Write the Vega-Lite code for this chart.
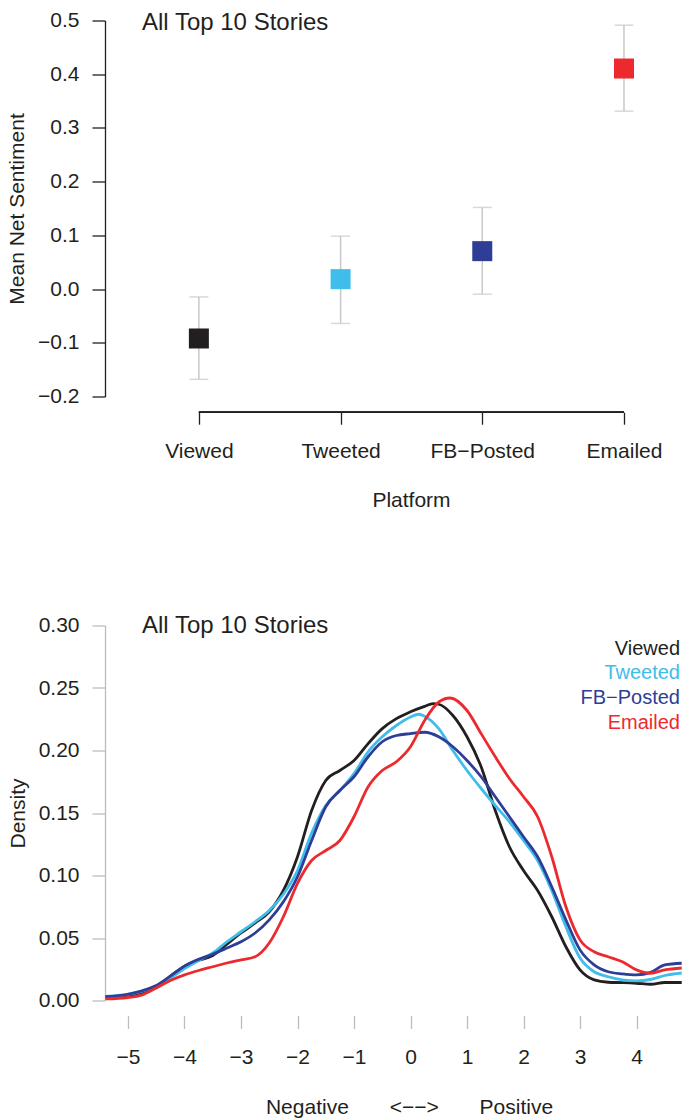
{
  "$schema": "https://vega.github.io/schema/vega-lite/v6.json",
  "padding": {"left": 6, "top": 9.5, "right": 0, "bottom": 0},
  "background": "white",
  "spacing": 102,
  "resolve": {"scale": {"stroke": "independent"}, "legend": {"stroke": "independent"}},
  "config": {
    "font": "Liberation Sans",
    "view": {"stroke": null},
    "axis": {"grid": false, "labelFont": "Liberation Sans", "titleFont": "Liberation Sans", "labelColor": "#231f20", "titleColor": "#231f20", "titleFontWeight": "normal", "labelFontSize": 21, "titleFontSize": 21, "labelOverlap": false, "labelFlush": false},
    "title": {"font": "Liberation Sans", "fontSize": 24, "fontWeight": "normal", "color": "#231f20", "anchor": "start", "frame": "group", "baseline": "alphabetic", "dx": 37}
  },
  "datasets": {
    "summary": [
      {"platform": "Viewed", "mean": -0.092, "lo": -0.168, "hi": -0.0146},
      {"platform": "Tweeted", "mean": 0.0185, "lo": -0.064, "hi": 0.0985},
      {"platform": "FB−Posted", "mean": 0.0706, "lo": -0.0095, "hi": 0.152},
      {"platform": "Emailed", "mean": 0.4106, "lo": 0.3312, "hi": 0.4913}
    ],
    "density": [
      {"platform": "Viewed", "x": -5.4, "density": 0.0027},
      {"platform": "Viewed", "x": -5.0, "density": 0.004},
      {"platform": "Viewed", "x": -4.75, "density": 0.0065},
      {"platform": "Viewed", "x": -4.5, "density": 0.011},
      {"platform": "Viewed", "x": -4.25, "density": 0.0195},
      {"platform": "Viewed", "x": -4.0, "density": 0.0275},
      {"platform": "Viewed", "x": -3.75, "density": 0.032},
      {"platform": "Viewed", "x": -3.5, "density": 0.036},
      {"platform": "Viewed", "x": -3.25, "density": 0.045},
      {"platform": "Viewed", "x": -3.0, "density": 0.054},
      {"platform": "Viewed", "x": -2.75, "density": 0.062},
      {"platform": "Viewed", "x": -2.5, "density": 0.071},
      {"platform": "Viewed", "x": -2.25, "density": 0.088},
      {"platform": "Viewed", "x": -2.0, "density": 0.115},
      {"platform": "Viewed", "x": -1.75, "density": 0.152},
      {"platform": "Viewed", "x": -1.5, "density": 0.176},
      {"platform": "Viewed", "x": -1.25, "density": 0.184},
      {"platform": "Viewed", "x": -1.0, "density": 0.192},
      {"platform": "Viewed", "x": -0.75, "density": 0.2055},
      {"platform": "Viewed", "x": -0.5, "density": 0.2175},
      {"platform": "Viewed", "x": -0.25, "density": 0.2255},
      {"platform": "Viewed", "x": 0.0, "density": 0.231},
      {"platform": "Viewed", "x": 0.25, "density": 0.2353},
      {"platform": "Viewed", "x": 0.4, "density": 0.2375},
      {"platform": "Viewed", "x": 0.5, "density": 0.237},
      {"platform": "Viewed", "x": 0.75, "density": 0.228},
      {"platform": "Viewed", "x": 1.0, "density": 0.211},
      {"platform": "Viewed", "x": 1.25, "density": 0.187},
      {"platform": "Viewed", "x": 1.5, "density": 0.152},
      {"platform": "Viewed", "x": 1.75, "density": 0.123},
      {"platform": "Viewed", "x": 2.0, "density": 0.104},
      {"platform": "Viewed", "x": 2.25, "density": 0.088},
      {"platform": "Viewed", "x": 2.5, "density": 0.067},
      {"platform": "Viewed", "x": 2.75, "density": 0.043},
      {"platform": "Viewed", "x": 3.0, "density": 0.0245},
      {"platform": "Viewed", "x": 3.25, "density": 0.0165},
      {"platform": "Viewed", "x": 3.5, "density": 0.0146},
      {"platform": "Viewed", "x": 3.75, "density": 0.0143},
      {"platform": "Viewed", "x": 4.0, "density": 0.0138},
      {"platform": "Viewed", "x": 4.25, "density": 0.013},
      {"platform": "Viewed", "x": 4.5, "density": 0.0144},
      {"platform": "Viewed", "x": 4.8, "density": 0.0144},
      {"platform": "Tweeted", "x": -5.4, "density": 0.0032},
      {"platform": "Tweeted", "x": -5.0, "density": 0.005},
      {"platform": "Tweeted", "x": -4.75, "density": 0.0075},
      {"platform": "Tweeted", "x": -4.5, "density": 0.0115},
      {"platform": "Tweeted", "x": -4.25, "density": 0.018},
      {"platform": "Tweeted", "x": -4.0, "density": 0.0255},
      {"platform": "Tweeted", "x": -3.75, "density": 0.032},
      {"platform": "Tweeted", "x": -3.5, "density": 0.038},
      {"platform": "Tweeted", "x": -3.25, "density": 0.047},
      {"platform": "Tweeted", "x": -3.0, "density": 0.055},
      {"platform": "Tweeted", "x": -2.75, "density": 0.063},
      {"platform": "Tweeted", "x": -2.5, "density": 0.072},
      {"platform": "Tweeted", "x": -2.25, "density": 0.085},
      {"platform": "Tweeted", "x": -2.0, "density": 0.104},
      {"platform": "Tweeted", "x": -1.75, "density": 0.134},
      {"platform": "Tweeted", "x": -1.5, "density": 0.156},
      {"platform": "Tweeted", "x": -1.25, "density": 0.168},
      {"platform": "Tweeted", "x": -1.0, "density": 0.1815},
      {"platform": "Tweeted", "x": -0.75, "density": 0.199},
      {"platform": "Tweeted", "x": -0.5, "density": 0.211},
      {"platform": "Tweeted", "x": -0.25, "density": 0.220},
      {"platform": "Tweeted", "x": 0.0, "density": 0.2268},
      {"platform": "Tweeted", "x": 0.15, "density": 0.229},
      {"platform": "Tweeted", "x": 0.25, "density": 0.2274},
      {"platform": "Tweeted", "x": 0.5, "density": 0.2175},
      {"platform": "Tweeted", "x": 0.75, "density": 0.200},
      {"platform": "Tweeted", "x": 1.0, "density": 0.184},
      {"platform": "Tweeted", "x": 1.25, "density": 0.1696},
      {"platform": "Tweeted", "x": 1.5, "density": 0.156},
      {"platform": "Tweeted", "x": 1.75, "density": 0.143},
      {"platform": "Tweeted", "x": 2.0, "density": 0.128},
      {"platform": "Tweeted", "x": 2.25, "density": 0.112},
      {"platform": "Tweeted", "x": 2.5, "density": 0.088},
      {"platform": "Tweeted", "x": 2.75, "density": 0.059},
      {"platform": "Tweeted", "x": 3.0, "density": 0.034},
      {"platform": "Tweeted", "x": 3.25, "density": 0.023},
      {"platform": "Tweeted", "x": 3.5, "density": 0.019},
      {"platform": "Tweeted", "x": 3.75, "density": 0.0165},
      {"platform": "Tweeted", "x": 4.0, "density": 0.0157},
      {"platform": "Tweeted", "x": 4.25, "density": 0.0168},
      {"platform": "Tweeted", "x": 4.5, "density": 0.020},
      {"platform": "Tweeted", "x": 4.8, "density": 0.022},
      {"platform": "FB−Posted", "x": -5.4, "density": 0.003},
      {"platform": "FB−Posted", "x": -5.0, "density": 0.005},
      {"platform": "FB−Posted", "x": -4.75, "density": 0.0078},
      {"platform": "FB−Posted", "x": -4.5, "density": 0.012},
      {"platform": "FB−Posted", "x": -4.25, "density": 0.0195},
      {"platform": "FB−Posted", "x": -4.0, "density": 0.0275},
      {"platform": "FB−Posted", "x": -3.75, "density": 0.033},
      {"platform": "FB−Posted", "x": -3.5, "density": 0.037},
      {"platform": "FB−Posted", "x": -3.25, "density": 0.042},
      {"platform": "FB−Posted", "x": -3.0, "density": 0.047},
      {"platform": "FB−Posted", "x": -2.75, "density": 0.054},
      {"platform": "FB−Posted", "x": -2.5, "density": 0.0645},
      {"platform": "FB−Posted", "x": -2.25, "density": 0.079},
      {"platform": "FB−Posted", "x": -2.0, "density": 0.099},
      {"platform": "FB−Posted", "x": -1.75, "density": 0.128},
      {"platform": "FB−Posted", "x": -1.5, "density": 0.155},
      {"platform": "FB−Posted", "x": -1.25, "density": 0.168},
      {"platform": "FB−Posted", "x": -1.0, "density": 0.179},
      {"platform": "FB−Posted", "x": -0.75, "density": 0.195},
      {"platform": "FB−Posted", "x": -0.5, "density": 0.207},
      {"platform": "FB−Posted", "x": -0.25, "density": 0.212},
      {"platform": "FB−Posted", "x": 0.0, "density": 0.2135},
      {"platform": "FB−Posted", "x": 0.25, "density": 0.2146},
      {"platform": "FB−Posted", "x": 0.5, "density": 0.211},
      {"platform": "FB−Posted", "x": 0.75, "density": 0.203},
      {"platform": "FB−Posted", "x": 1.0, "density": 0.192},
      {"platform": "FB−Posted", "x": 1.25, "density": 0.179},
      {"platform": "FB−Posted", "x": 1.5, "density": 0.163},
      {"platform": "FB−Posted", "x": 1.75, "density": 0.147},
      {"platform": "FB−Posted", "x": 2.0, "density": 0.131},
      {"platform": "FB−Posted", "x": 2.25, "density": 0.115},
      {"platform": "FB−Posted", "x": 2.5, "density": 0.091},
      {"platform": "FB−Posted", "x": 2.75, "density": 0.0645},
      {"platform": "FB−Posted", "x": 3.0, "density": 0.0405},
      {"platform": "FB−Posted", "x": 3.25, "density": 0.0285},
      {"platform": "FB−Posted", "x": 3.5, "density": 0.023},
      {"platform": "FB−Posted", "x": 3.75, "density": 0.0213},
      {"platform": "FB−Posted", "x": 4.0, "density": 0.0205},
      {"platform": "FB−Posted", "x": 4.25, "density": 0.0225},
      {"platform": "FB−Posted", "x": 4.5, "density": 0.0285},
      {"platform": "FB−Posted", "x": 4.8, "density": 0.0298},
      {"platform": "Emailed", "x": -5.4, "density": 0.0013},
      {"platform": "Emailed", "x": -5.0, "density": 0.0024},
      {"platform": "Emailed", "x": -4.75, "density": 0.0045},
      {"platform": "Emailed", "x": -4.5, "density": 0.010},
      {"platform": "Emailed", "x": -4.25, "density": 0.016},
      {"platform": "Emailed", "x": -4.0, "density": 0.0205},
      {"platform": "Emailed", "x": -3.75, "density": 0.024},
      {"platform": "Emailed", "x": -3.5, "density": 0.027},
      {"platform": "Emailed", "x": -3.25, "density": 0.030},
      {"platform": "Emailed", "x": -3.0, "density": 0.0325},
      {"platform": "Emailed", "x": -2.75, "density": 0.035},
      {"platform": "Emailed", "x": -2.5, "density": 0.046},
      {"platform": "Emailed", "x": -2.25, "density": 0.067},
      {"platform": "Emailed", "x": -2.0, "density": 0.0937},
      {"platform": "Emailed", "x": -1.75, "density": 0.112},
      {"platform": "Emailed", "x": -1.5, "density": 0.120},
      {"platform": "Emailed", "x": -1.25, "density": 0.128},
      {"platform": "Emailed", "x": -1.0, "density": 0.147},
      {"platform": "Emailed", "x": -0.75, "density": 0.171},
      {"platform": "Emailed", "x": -0.5, "density": 0.184},
      {"platform": "Emailed", "x": -0.25, "density": 0.191},
      {"platform": "Emailed", "x": 0.0, "density": 0.203},
      {"platform": "Emailed", "x": 0.25, "density": 0.224},
      {"platform": "Emailed", "x": 0.5, "density": 0.2388},
      {"platform": "Emailed", "x": 0.7, "density": 0.242},
      {"platform": "Emailed", "x": 1.0, "density": 0.232},
      {"platform": "Emailed", "x": 1.25, "density": 0.2135},
      {"platform": "Emailed", "x": 1.5, "density": 0.195},
      {"platform": "Emailed", "x": 1.75, "density": 0.1776},
      {"platform": "Emailed", "x": 2.0, "density": 0.163},
      {"platform": "Emailed", "x": 2.25, "density": 0.147},
      {"platform": "Emailed", "x": 2.5, "density": 0.115},
      {"platform": "Emailed", "x": 2.75, "density": 0.075},
      {"platform": "Emailed", "x": 3.0, "density": 0.0485},
      {"platform": "Emailed", "x": 3.25, "density": 0.039},
      {"platform": "Emailed", "x": 3.5, "density": 0.035},
      {"platform": "Emailed", "x": 3.75, "density": 0.031},
      {"platform": "Emailed", "x": 4.0, "density": 0.0245},
      {"platform": "Emailed", "x": 4.25, "density": 0.0218},
      {"platform": "Emailed", "x": 4.5, "density": 0.0245},
      {"platform": "Emailed", "x": 4.8, "density": 0.026}
    ]
  },
  "vconcat": [
    {
      "width": 577,
      "height": 376,
      "title": {"text": "All Top 10 Stories", "offset": -25},
      "data": {"name": "summary"},
      "encoding": {
        "x": {"field": "platform", "type": "nominal", "sort": ["Viewed", "Tweeted", "FB−Posted", "Emailed"],
              "scale": {"type": "point", "padding": 0.536, "align": 0.618},
              "axis": {"title": "Platform", "labelAngle": 0, "domain": false, "tickSize": 12, "tickColor": "#231f20", "tickWidth": 1.3, "offset": 15.7, "labelPadding": 16.4, "titlePadding": 28, "titleX": 306, "titleAlign": "center"}}
      },
      "layer": [
        {"mark": {"type": "rule", "color": "#c8c8c8", "strokeWidth": 1.5},
         "encoding": {
           "y": {"field": "lo", "type": "quantitative", "scale": {"domain": [-0.2, 0.5], "nice": false, "zero": false},
                 "axis": {"title": "Mean Net Sentiment", "values": [-0.2, -0.1, 0, 0.1, 0.2, 0.3, 0.4, 0.5], "format": ".1f", "tickSize": 13, "labelPadding": 13, "domainColor": "#231f20", "tickColor": "#231f20", "domainWidth": 1.3, "tickWidth": 1.3, "titlePadding": 10}},
           "y2": {"field": "hi"}}},
        {"mark": {"type": "tick", "color": "#c8c8c8", "thickness": 1.5, "size": 19, "orient": "horizontal"},
         "encoding": {"y": {"field": "lo", "type": "quantitative"}}},
        {"mark": {"type": "tick", "color": "#c8c8c8", "thickness": 1.5, "size": 19, "orient": "horizontal"},
         "encoding": {"y": {"field": "hi", "type": "quantitative"}}},
        {"mark": {"type": "point", "shape": "square", "filled": true, "size": 400, "opacity": 1},
         "encoding": {
           "y": {"field": "mean", "type": "quantitative"},
           "fill": {"field": "platform", "type": "nominal",
                    "scale": {"domain": ["Viewed", "Tweeted", "FB−Posted", "Emailed"], "range": ["#231f20", "#3fbdeb", "#2e3d96", "#ec2a2e"]},
                    "legend": null}}},
        {"mark": {"type": "rule", "color": "#231f20", "strokeWidth": 1.3},
         "encoding": {"x": {"datum": "Viewed"}, "x2": {"datum": "Emailed"}, "y": {"datum": -0.2292}}}
      ]
    },
    {
      "width": 577,
      "height": 375,
      "title": {"text": "All Top 10 Stories", "offset": -23.5},
      "layer": [
        {"mark": {"type": "rule", "color": "#bdbdbd", "strokeWidth": 1, "strokeDash": [5, 4]},
         "encoding": {"x": {"datum": 0}, "y": {"datum": -0.0115}, "y2": {"datum": 0.31}}},
        {"mark": {"type": "rule", "color": "#bdbdbd", "strokeWidth": 1.3},
         "encoding": {"x": {"datum": -5}, "x2": {"datum": 4.805}, "y": {"datum": -0.012}}},
        {"data": {"name": "density"},
         "mark": {"type": "line", "interpolate": "monotone", "strokeWidth": 2.8},
         "encoding": {
           "x": {"field": "x", "type": "quantitative",
                 "scale": {"domain": [-5.407, 4.805], "nice": false, "zero": false},
                 "axis": {"title": "Negative\u00a0\u00a0\u00a0\u00a0\u00a0\u00a0\u00a0<−−>\u00a0\u00a0\u00a0\u00a0\u00a0\u00a0\u00a0Positive", "values": [-5, -4, -3, -2, -1, 0, 1, 2, 3, 4], "format": "d", "domain": false, "tickSize": 13, "tickColor": "#bdbdbd", "tickWidth": 1.3, "offset": 15, "labelPadding": 18, "titlePadding": 29, "titleX": 304, "titleAlign": "center"}},
           "y": {"field": "density", "type": "quantitative",
                 "scale": {"domain": [0, 0.3], "nice": false, "zero": false},
                 "axis": {"title": "Density", "values": [0, 0.05, 0.1, 0.15, 0.2, 0.25, 0.3], "format": ".2f", "tickSize": 13, "labelPadding": 13, "domainColor": "#bdbdbd", "tickColor": "#bdbdbd", "domainWidth": 1.3, "tickWidth": 1.3, "titlePadding": 10}},
           "stroke": {"field": "platform", "type": "nominal", "sort": ["Viewed", "Tweeted", "FB−Posted", "Emailed"],
                      "scale": {"domain": ["Viewed", "Tweeted", "FB−Posted", "Emailed"], "range": ["#231f20", "#3fbdeb", "#2e3d96", "#ec2a2e"]},
                      "legend": {"title": null, "orient": "none", "legendX": 555, "legendY": 13, "padding": 0, "symbolOpacity": 0, "symbolSize": 0, "symbolStrokeWidth": 0, "labelFontSize": 20, "labelFont": "Liberation Sans", "labelAlign": "right", "labelOffset": 0, "rowPadding": 4.7, "labelLimit": 300,
                                 "encode": {"labels": {"update": {"fill": {"signal": "datum.value === 'Viewed' ? '#231f20' : datum.value === 'Tweeted' ? '#3fbdeb' : datum.value === 'Emailed' ? '#ec2a2e' : '#2e3d96'"}}}}}}
         }}
      ]
    }
  ]
}
